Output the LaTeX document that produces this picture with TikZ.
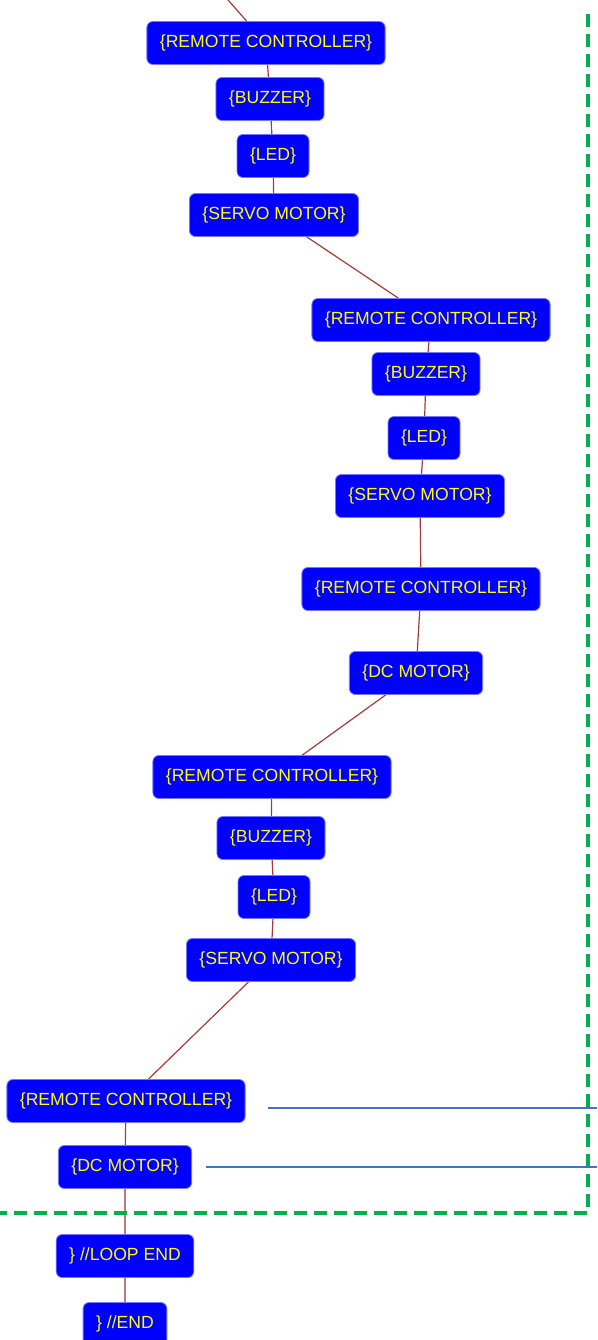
\documentclass[tikz,border=0pt]{standalone}
\usepackage{fontspec}
\setmainfont{Liberation Sans}
\usetikzlibrary{backgrounds}
\begin{document}
\definecolor{boxblue}{HTML}{0000FF}
\definecolor{boxedge}{HTML}{7878FF}
\definecolor{boxtext}{HTML}{FFFF00}
\definecolor{wire}{HTML}{A33A3A}
\definecolor{wirelight}{HTML}{C07A7A}
\definecolor{loopgreen}{HTML}{00B050}
\definecolor{calloutblue}{HTML}{4472C4}
\begin{tikzpicture}[x=1pt,y=-1pt,
  block/.style={fill=boxblue,draw=boxedge,line width=0.8pt,rounded corners=6pt,
    text=boxtext,font=\fontsize{17.6}{19}\selectfont,minimum height=43pt,
    inner xsep=13pt,inner ysep=0pt,anchor=center},
  link/.style={draw=wire,line width=1.2pt},
  linklight/.style={draw=wirelight,line width=1.4pt},
  loopframe/.style={draw=loopgreen,line width=4pt,dash pattern=on 13pt off 7pt},
  callout/.style={draw=calloutblue,line width=1.6pt}]
\useasboundingbox (0,0) rectangle (597,1340);

% first pass: controller, buzzer, led, servo
\node[block] (rcA) at (266,43) {\{REMOTE CONTROLLER\}};
\node[block] (bzA) at (270,99) {\{BUZZER\}};
\node[block] (ledA) at (273,156) {\{LED\}};
\node[block] (svA) at (274,215) {\{SERVO MOTOR\}};

% second pass
\node[block] (rcB) at (431,320) {\{REMOTE CONTROLLER\}};
\node[block] (bzB) at (426,374) {\{BUZZER\}};
\node[block] (ledB) at (424,438) {\{LED\}};
\node[block] (svB) at (420,496) {\{SERVO MOTOR\}};
\node[block] (rcC) at (421,589) {\{REMOTE CONTROLLER\}};
\node[block] (dcA) at (416,673) {\{DC MOTOR\}};

% third pass
\node[block] (rcD) at (272,777) {\{REMOTE CONTROLLER\}};
\node[block] (bzC) at (271,838) {\{BUZZER\}};
\node[block] (ledC) at (274,897) {\{LED\}};
\node[block] (svC) at (271,960) {\{SERVO MOTOR\}};
\node[block] (rcE) at (126,1101) {\{REMOTE CONTROLLER\}};
\node[block] (dcB) at (125,1167) {\{DC MOTOR\}};

% closing blocks
\node[block] (loopend) at (125,1256) {\} //LOOP END};
\node[block] (progend) at (125,1324) {\} //END};

% incoming wire from above
\coordinate (entry) at (228,0);

% flow wires, kept behind the boxes
\begin{pgfonlayer}{background}
\path[link] (entry) -- (rcA);
\path[link] (rcA) -- (bzA);
\path[link] (bzA) -- (ledA);
\path[link] (ledA) -- (svA);
\path[link] (svA) -- (rcB);
\path[link] (rcB) -- (bzB);
\path[link] (bzB) -- (ledB);
\path[link] (ledB) -- (svB);
\path[link] (svB) -- (rcC);
\path[link] (rcC) -- (dcA);
\path[link] (dcA) -- (rcD);
\path[link] (rcD) -- (bzC);
\path[link] (bzC) -- (ledC);
\path[link] (ledC) -- (svC);
\path[link] (svC) -- (rcE);
\path[link] (rcE) -- (dcB);
\path[linklight] (dcB) -- (loopend);
\path[linklight] (loopend) -- (progend);
\end{pgfonlayer}

% loop region frame
\coordinate (frameTop) at (588,14);
\coordinate (frameCorner) at (588,1213);
\coordinate (frameLeft) at (0,1213);
\draw[loopframe] (frameTop) -- (frameCorner) -- (frameLeft);

% callout lines
\coordinate (cA0) at (268,1108);
\coordinate (cA1) at (597,1108);
\coordinate (cB0) at (206,1167);
\coordinate (cB1) at (597,1167);
\draw[callout] (cA0) -- (cA1);
\draw[callout] (cB0) -- (cB1);
\end{tikzpicture}
\end{document}
